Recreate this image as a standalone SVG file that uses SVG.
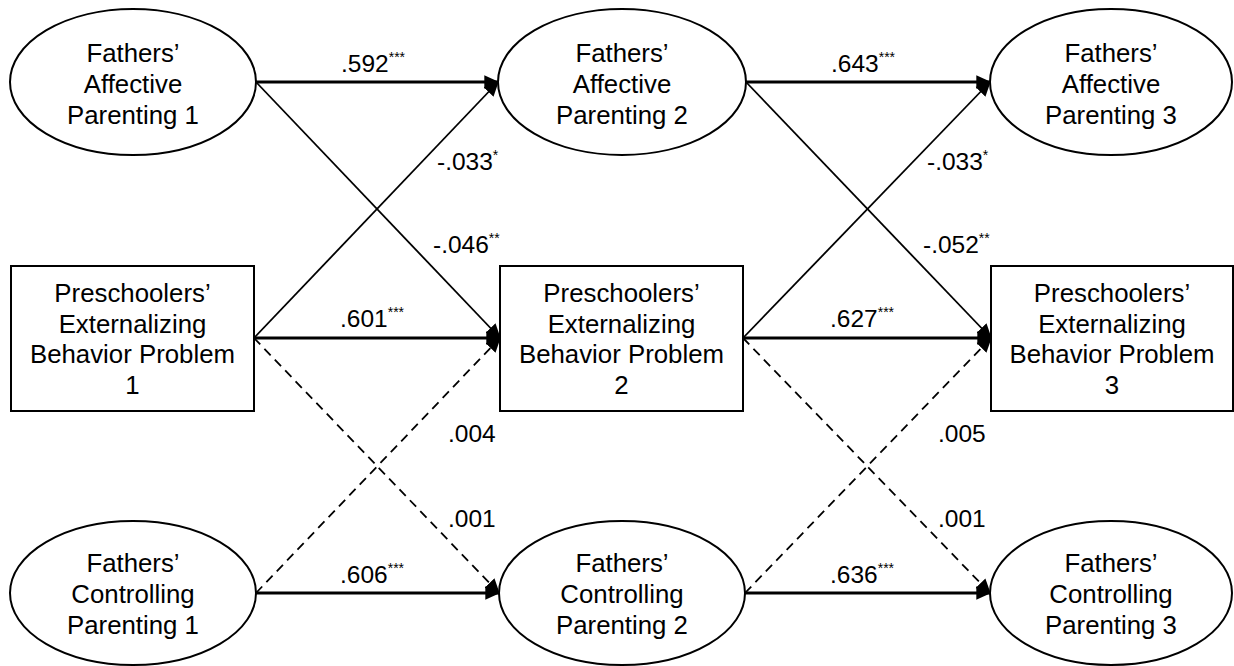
<svg xmlns="http://www.w3.org/2000/svg" width="1234" height="666" viewBox="0 0 1234 666">
<style>
.node ellipse, .node rect { fill: #fff; stroke: #000; stroke-width: 2; }
.node text { font-family: "Liberation Sans", Arial, sans-serif; font-size: 25.8px; text-anchor: middle; fill: #000; }
.lbl { font-family: "Liberation Sans", Arial, sans-serif; font-size: 24.5px; fill: #000; }
.sup { font-size: 14px; }
.thick { stroke: #000; stroke-width: 3.2; fill: none; }
.thin { stroke: #000; stroke-width: 1.8; fill: none; }
.dash { stroke: #000; stroke-width: 1.8; fill: none; stroke-dasharray: 9 6; }
</style>
<defs>
<marker id="ah" markerUnits="userSpaceOnUse" markerWidth="16" markerHeight="16" viewBox="0 0 14 14" refX="12" refY="7" orient="auto">
<path d="M0,1 L13,7 L0,13 Z" fill="#000"/>
</marker>
</defs>
<rect width="1234" height="666" fill="#fff"/>
<g id="connectors">
<line class="thick" x1="256" y1="82" x2="498" y2="82" marker-end="url(#ah)"/>
<line class="thick" x1="746" y1="82" x2="990" y2="82" marker-end="url(#ah)"/>
<line class="thick" x1="254" y1="338" x2="500" y2="338" marker-end="url(#ah)"/>
<line class="thick" x1="743" y1="338" x2="991" y2="338" marker-end="url(#ah)"/>
<line class="thick" x1="256" y1="593" x2="499" y2="593" marker-end="url(#ah)"/>
<line class="thick" x1="745" y1="593" x2="990" y2="593" marker-end="url(#ah)"/>
<line class="thin" x1="256" y1="82" x2="500" y2="338" marker-end="url(#ah)"/>
<line class="thin" x1="254" y1="338" x2="498" y2="82" marker-end="url(#ah)"/>
<line class="thin" x1="746" y1="82" x2="991" y2="338" marker-end="url(#ah)"/>
<line class="thin" x1="743" y1="338" x2="990" y2="82" marker-end="url(#ah)"/>
<line class="dash" x1="256" y1="593" x2="500" y2="338" marker-end="url(#ah)"/>
<line class="dash" x1="254" y1="338" x2="499" y2="593" marker-end="url(#ah)"/>
<line class="dash" x1="745" y1="593" x2="991" y2="338" marker-end="url(#ah)"/>
<line class="dash" x1="743" y1="338" x2="990" y2="593" marker-end="url(#ah)"/>
</g>
<g id="labels">
<text class="lbl" x="341" y="72">.592<tspan class="sup" dy="-10">***</tspan></text>
<text class="lbl" x="831" y="72">.643<tspan class="sup" dy="-10">***</tspan></text>
<text class="lbl" x="437" y="170">-.033<tspan class="sup" dy="-10">*</tspan></text>
<text class="lbl" x="927" y="170">-.033<tspan class="sup" dy="-10">*</tspan></text>
<text class="lbl" x="433" y="253">-.046<tspan class="sup" dy="-10">**</tspan></text>
<text class="lbl" x="923" y="253">-.052<tspan class="sup" dy="-10">**</tspan></text>
<text class="lbl" x="340" y="327">.601<tspan class="sup" dy="-10">***</tspan></text>
<text class="lbl" x="830" y="327">.627<tspan class="sup" dy="-10">***</tspan></text>
<text class="lbl" x="448" y="442">.004</text>
<text class="lbl" x="938" y="442">.005</text>
<text class="lbl" x="448" y="527">.001</text>
<text class="lbl" x="938" y="527">.001</text>
<text class="lbl" x="340" y="583">.606<tspan class="sup" dy="-10">***</tspan></text>
<text class="lbl" x="830" y="583">.636<tspan class="sup" dy="-10">***</tspan></text>
</g>
<g id="fap1" class="node">
<ellipse cx="133" cy="82" rx="123" ry="73"/>
<text x="133" y="62">Fathers’</text>
<text x="133" y="93">Affective</text>
<text x="133" y="123.5">Parenting 1</text>
</g>
<g id="fap2" class="node">
<ellipse cx="622" cy="82" rx="124" ry="73"/>
<text x="622" y="62">Fathers’</text>
<text x="622" y="93">Affective</text>
<text x="622" y="123.5">Parenting 2</text>
</g>
<g id="fap3" class="node">
<ellipse cx="1111" cy="82" rx="121" ry="73"/>
<text x="1111" y="62">Fathers’</text>
<text x="1111" y="93">Affective</text>
<text x="1111" y="123.5">Parenting 3</text>
</g>
<g id="pebp1" class="node">
<rect x="11" y="266" width="243" height="145"/>
<text x="132.5" y="302">Preschoolers’</text>
<text x="132.5" y="332.5">Externalizing</text>
<text x="132.5" y="363">Behavior Problem</text>
<text x="132.5" y="394">1</text>
</g>
<g id="pebp2" class="node">
<rect x="500" y="266" width="243" height="145"/>
<text x="621.5" y="302">Preschoolers’</text>
<text x="621.5" y="332.5">Externalizing</text>
<text x="621.5" y="363">Behavior Problem</text>
<text x="621.5" y="394">2</text>
</g>
<g id="pebp3" class="node">
<rect x="991" y="266" width="242" height="145"/>
<text x="1112" y="302">Preschoolers’</text>
<text x="1112" y="332.5">Externalizing</text>
<text x="1112" y="363">Behavior Problem</text>
<text x="1112" y="394">3</text>
</g>
<g id="fcp1" class="node">
<ellipse cx="133" cy="593" rx="123" ry="72"/>
<text x="133" y="572">Fathers’</text>
<text x="133" y="603">Controlling</text>
<text x="133" y="633.5">Parenting 1</text>
</g>
<g id="fcp2" class="node">
<ellipse cx="622" cy="593" rx="123" ry="72"/>
<text x="622" y="572">Fathers’</text>
<text x="622" y="603">Controlling</text>
<text x="622" y="633.5">Parenting 2</text>
</g>
<g id="fcp3" class="node">
<ellipse cx="1111" cy="593" rx="121" ry="72"/>
<text x="1111" y="572">Fathers’</text>
<text x="1111" y="603">Controlling</text>
<text x="1111" y="633.5">Parenting 3</text>
</g>
</svg>
